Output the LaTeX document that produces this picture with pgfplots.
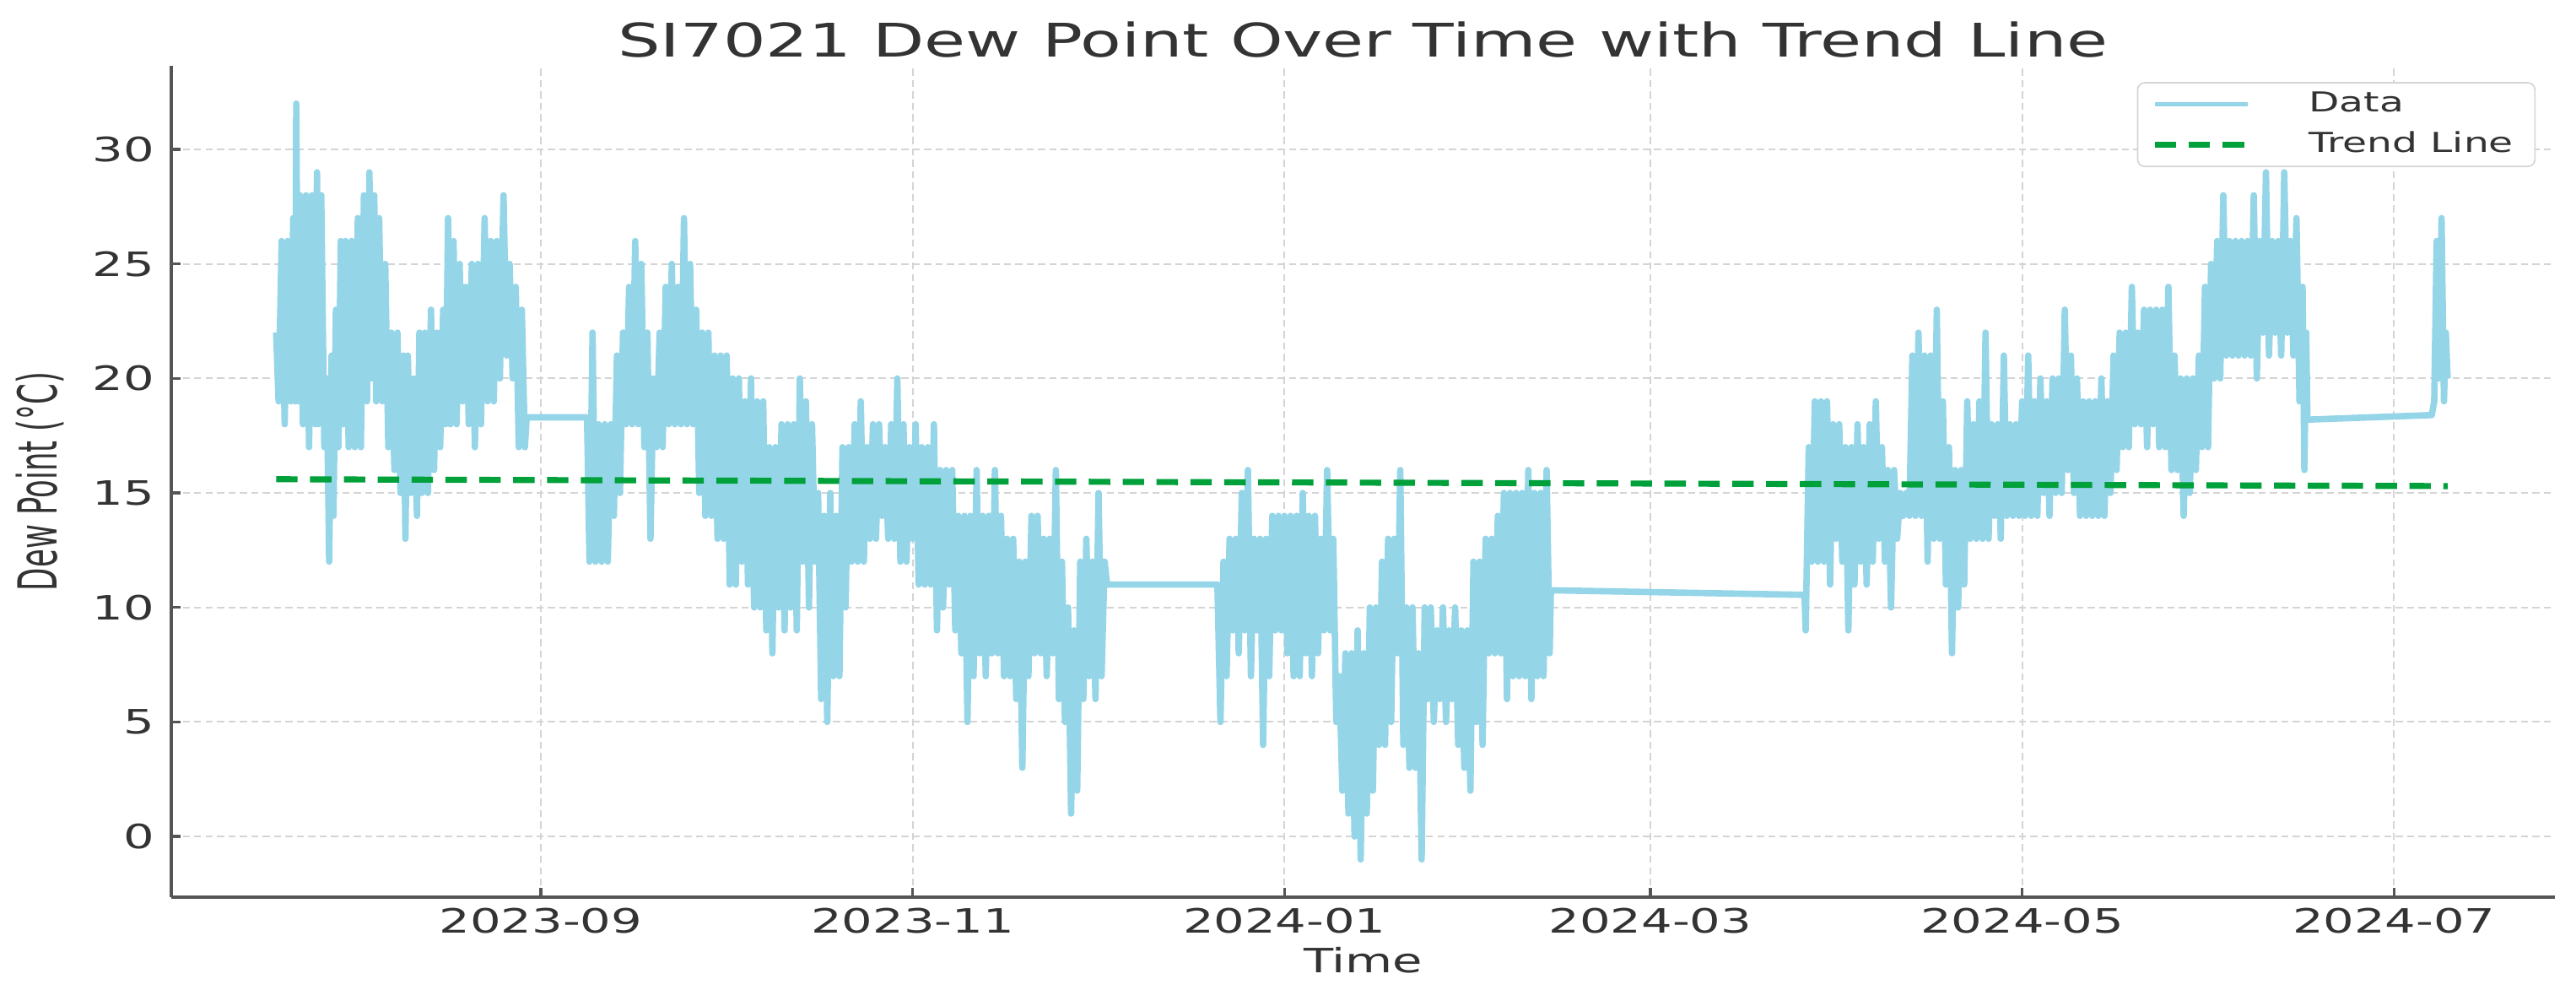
\documentclass[border=0pt]{standalone}
\usepackage{fontspec}
\setmainfont{DejaVu Sans}[FakeStretch=1.45]
\newfontfamily\plainfont{DejaVu Sans}
\usepackage{graphicx}
\usepackage{pgfplots}
\pgfplotsset{compat=1.18}
\usetikzlibrary{calc}
\definecolor{skyline}{HTML}{95D5E8}
\definecolor{trendgreen}{HTML}{00A03A}
\definecolor{gridgray}{HTML}{D4D4D4}
\definecolor{spinegray}{HTML}{555555}
\definecolor{txtgray}{HTML}{333333}

\begin{document}
\begin{tikzpicture}
\begin{axis}[
  scale only axis, width=23.503cm, height=8.195cm,
  xmin=-60.6, xmax=330.4, ymin=-2.65, ymax=33.65,
  axis lines=left, axis line style={-, spinegray, line width=0.9pt},
  tick align=inside, major tick length=2.5pt,
  tick style={spinegray, line width=0.8pt},
  % x axis: days since 2023-09-01
  xtick={0,61,122,182,243,304},
  xticklabels={2023-09,2023-11,2024-01,2024-03,2024-05,2024-07},
  ytick={0,5,...,30},
  grid=major,
  major grid style={gridgray, line width=0.5pt, dash pattern=on 2pt off 1.2pt},
  /pgf/number format/assume math mode=true,
  tick label style={font=\fontsize{9.4}{10}\selectfont, text=txtgray},
  xticklabel style={anchor=north, inner sep=0pt, yshift=-0.1cm},
  yticklabel style={anchor=east, inner sep=0pt, xshift=-0.16cm},
  every axis title shift=0pt,
  title={SI7021 Dew Point Over Time with Trend Line},
  title style={at={(axis description cs:0.5,1.0102)}, anchor=base, inner sep=0pt,
               font=\fontsize{13}{15}\selectfont, text=txtgray},
  xlabel={Time},
  xlabel style={at={(axis description cs:0.5,-0.0598)}, anchor=north, inner sep=0pt,
                font=\fontsize{9.4}{10}\selectfont, text=txtgray},
  ylabel={\scalebox{1}[1.8]{\plainfont\fontsize{8.4}{10}\selectfont Dew Point (°C)}},
  ylabel style={at={(axis description cs:-0.0549,0.5)}, anchor=center, inner sep=0pt,
                text=txtgray},
  legend style={at={(axis description cs:1,1)}, anchor=north east,
                xshift=-0.19cm, yshift=-0.16cm, draw=gridgray, rounded corners=2pt,
                fill=white, font=\fontsize{7.7}{9}\selectfont, text=txtgray,
                inner xsep=4pt, inner ysep=0.5pt, column sep=0.5cm},
  legend cell align=left,
  legend image code/.code={\draw[#1] (0cm,0cm) -- (0.92cm,0cm);},
]
\addlegendimage{skyline, line width=1.2pt}
\addlegendentry{Data}
\addplot[skyline, line width=1.8pt, line join=round, forget plot] coordinates {
(-43.4,22)(-43,19)(-42.5,26)(-42,18)(-41.5,26)(-41,19)(-40.6,27)(-40.3,19)(-40.1,32)(-39.8,19)
(-39.5,28)(-39,18)(-38.5,28)(-38,17)(-37.5,28)(-37,18)(-36.7,29)(-36.5,18)(-36,28)(-35.5,17)
(-35.1,20)(-34.7,12)(-34.3,21)(-34,14)(-33.6,23)(-33.2,17)(-32.8,26)(-32.4,18)(-32,26)(-31.5,17)
(-31,26)(-30.5,17)(-30,27)(-29.5,17)(-29,28)(-28.5,19)(-28.1,29)(-27.7,20)(-27.3,28)(-27,19)
(-26.5,27)(-26,19)(-25.5,25)(-25,17)(-24.5,22)(-24,16)(-23.5,22)(-23,15)(-22.5,21)(-22.2,13)
(-21.8,21)(-21.3,15)(-20.8,20)(-20.3,14)(-19.9,22)(-19.5,15)(-19,22)(-18.5,15)(-18,23)(-17.5,16)
(-17,22)(-16.5,17)(-16,23)(-15.6,18)(-15.2,27)(-14.8,18)(-14.3,26)(-13.8,18)(-13.3,25)(-12.8,19)
(-12.3,24)(-11.8,18)(-11.3,25)(-10.8,17)(-10.3,25)(-9.8,18)(-9.2,27)(-8.7,19)(-8.2,26)(-7.7,19)
(-7.2,26)(-6.7,20)(-6.1,28)(-5.6,21)(-5.1,25)(-4.6,20)(-4.1,24)(-3.6,17)(-3.1,23)(-2.6,17)
(-2.3,18.3)(7.6,18.3)
(8,12)(8.5,22)(9,12)(9.5,18)(10,12)(10.5,18)(11,12)(11.5,18)(12,14)(12.5,21)
(13,15)(13.5,22)(14,18)(14.5,24)(15,18)(15.5,26)(16,18)(16.5,25)(17,17)(17.5,22)
(18,13)(18.5,20)(19,17)(19.5,22)(20,17)(20.5,24)(21,18)(21.5,25)(22,18)(22.5,24)
(23,18)(23.5,27)(24,18)(24.5,25)(25,18)(25.5,23)(26,15)(26.5,22)(27,14)(27.5,22)
(28,14)(28.5,21)(29,13)(29.5,21)(30,13)(30.5,21)(31,11)(31.5,20)(32,11)(32.5,20)
(33,12)(33.5,19)(34,11)(34.5,20)(35,10)(35.5,19)(36,10)(36.5,19)(37,9)(37.5,17)
(38,8)(38.5,17)(39,10)(39.5,18)(40,9)(40.5,18)(41,10)(41.5,18)(42,9)(42.5,20)
(43,12)(43.5,19)(44,10)(44.5,18)(45,12)(45.5,15)(46,6)(46.5,14)(47,5)(47.5,15)
(48,7)(48.5,14)(49,7)(49.5,17)(50,10)(50.5,17)(51,12)(51.5,18)(52,12)(52.5,19)
(53,12)(53.5,17)(54,13)(54.5,18)(55,13)(55.5,18)(56,14)(56.5,17)(57,13)(57.5,18)
(58,13)(58.5,20)(59,12)(59.5,18)(60,12)(60.5,17)(61,13)(61.5,18)(62,11)(62.5,17)
(63,11)(63.5,17)(64,11)(64.5,18)(65,9)(65.5,16)(66,10)(66.5,16)(67,11)(67.5,16)
(68,9)(68.5,14)(69,8)(69.5,14)(70,5)(70.5,14)(71,7)(71.5,16)(72,8)(72.5,14)
(73,7)(73.5,14)(74,8)(74.5,16)(75,8)(75.5,14)(76,7)(76.5,13)(77,7)(77.5,13)
(78,6)(78.5,12)(79,3)(79.5,12)(80,7)(80.5,14)(81,8)(81.5,14)(82,8)(82.5,13)
(83,7)(83.5,13)(84,8)(84.5,16)(85,6)(85.5,12)(86,5)(86.5,10)(87,1)(87.5,9)
(88,2)(88.5,12)(89,6)(89.5,13)(90,7)(90.5,12)(91,6)(91.5,15)(92,7)(92.5,12)
(92.9,11)(111,11)
(111.5,5)(112,12)(112.5,7)(113,13)(113.5,9)(114,13)(114.5,8)(115,15)(115.5,9)(116,16)
(116.5,7)(117,13)(117.5,9)(118,13)(118.5,4)(119,13)(119.5,7)(120,14)(120.5,9)(121,14)
(121.5,9)(122,14)(122.5,8)(123,14)(123.5,7)(124,14)(124.5,7)(125,15)(125.5,8)(126,14)
(126.5,7)(127,14)(127.5,8)(128,13)(128.5,9)(129,16)(129.5,9)(130,13)(130.5,5)(131,7)
(131.5,2)(132,8)(132.5,1)(133,8)(133.5,0)(134,9)(134.5,-1)(135,8)(135.5,1)(136,10)
(136.5,2)(137,10)(137.5,4)(138,12)(138.5,4)(139,13)(139.5,5)(140,13)(140.5,8)(141,16)
(141.5,4)(142,10)(142.5,3)(143,10)(143.5,3)(144,8)(144.5,-1)(145,10)(145.5,6)(146,10)
(146.5,5)(147,9)(147.5,6)(148,10)(148.5,5)(149,9)(149.5,6)(150,10)(150.5,4)(151,9)
(151.5,3)(152,9)(152.5,2)(153,12)(153.5,5)(154,12)(154.5,4)(155,13)(155.5,8)(156,13)
(156.5,8)(157,14)(157.5,8)(158,15)(158.5,6)(159,15)(159.5,7)(160,15)(160.5,7)(161,15)
(161.5,7)(162,16)(162.5,6)(163,15)(163.5,7)(164,15)(164.5,7)(165,16)(165.5,8)
(165.7,10.75)(207.3,10.55)
(207.5,9)(208,17)(208.5,12)(209,19)(209.5,12)(210,19)(210.5,12)(211,19)(211.5,11)(212,18)
(212.5,13)(213,18)(213.5,12)(214,17)(214.5,9)(215,17)(215.5,11)(216,18)(216.5,12)(217,17)
(217.5,11)(218,18)(218.5,12)(219,19)(219.5,13)(220,17)(220.5,12)(221,16)(221.5,10)(222,16)
(222.5,13)(223,15)(223.5,14)(224,15)(224.5,14)(225,21)(225.5,14)(226,22)(226.5,14)(227,21)
(227.5,12)(228,21)(228.5,13)(229,23)(229.5,13)(230,19)(230.5,11)(231,17)(231.5,8)(232,16)
(232.5,10)(233,16)(233.5,11)(234,19)(234.5,13)(235,18)(235.5,13)(236,19)(236.5,13)(237,22)
(237.5,13)(238,18)(238.5,14)(239,18)(239.5,13)(240,21)(240.5,14)(241,18)(241.5,14)(242,18)
(242.5,14)(243,19)(243.5,14)(244,21)(244.5,14)(245,19)(245.5,14)(246,20)(246.5,15)(247,19)
(247.5,14)(248,20)(248.5,15)(249,20)(249.5,15)(250,23)(250.5,16)(251,21)(251.5,15)(252,20)
(252.5,14)(253,19)(253.5,14)(254,19)(254.5,14)(255,19)(255.5,14)(256,20)(256.5,14)(257,19)
(257.5,15)(258,21)(258.5,16)(259,22)(259.5,17)(260,22)(260.5,17)(261,24)(261.5,18)(262,22)
(262.5,18)(263,23)(263.5,17)(264,23)(264.5,18)(265,23)(265.5,17)(266,23)(266.5,17)(267,24)
(267.5,16)(268,21)(268.5,16)(269,20)(269.5,14)(270,20)(270.5,15)(271,20)(271.5,16)(272,21)
(272.5,17)(273,24)(273.5,17)(274,25)(274.5,20)(275,26)(275.5,20)(276,28)(276.5,21)(277,26)
(277.5,21)(278,26)(278.5,21)(279,26)(279.5,21)(280,26)(280.5,21)(281,28)(281.5,20)(282,26)
(282.5,22)(283,29)(283.5,21)(284,26)(284.5,22)(285,26)(285.5,21)(286,29)(286.5,22)(287,26)
(287.5,21)(288,27)(288.5,19)(289,24)(289.3,16)(289.6,22)(289.8,18.2)(310.2,18.4)
(310.6,19)(311,26)(311.4,20)(311.8,27)(312.2,19)(312.5,22)(312.8,20)
};
\addplot[trendgreen, line width=1.7pt, dash pattern=on 6pt off 3.5pt]
  coordinates {(-43.4,15.6) (312.8,15.3)};
\addlegendentry{Trend Line}
\end{axis}
\pgfresetboundingbox
\path[use as bounding box] ($(current axis.south west)+(-1.689cm,-0.915cm)$)
  rectangle ($(current axis.north east)+(0.208cm,0.649cm)$);
\end{tikzpicture}
\end{document}
